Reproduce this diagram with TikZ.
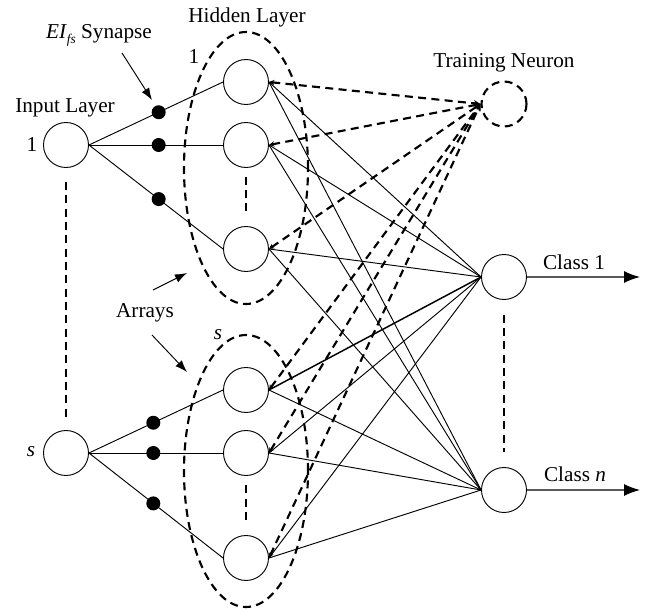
\documentclass[tikz,border=0pt]{standalone}
\usepackage{fontspec}
\setmainfont{Liberation Serif}
\usetikzlibrary{shapes.geometric, arrows.meta}
\tikzstyle{neuron} = [circle, draw, line width=0.7pt, minimum size=33.75pt, inner sep=0pt]
\tikzstyle{trainer} = [neuron, line width=1.6pt, dash pattern=on 6pt off 4pt]
\tikzstyle{synapse} = [circle, fill=black, minimum size=10.5pt, inner sep=0pt]
\tikzstyle{array} = [ellipse, draw, line width=1.6pt, dash pattern=on 6pt off 4pt,
    minimum width=93pt, minimum height=204pt, inner sep=0pt]
\tikzstyle{line} = [draw, line width=0.7pt]
\tikzstyle{train} = [draw, line width=1.6pt, dash pattern=on 6pt off 4pt,
    {Stealth[length=4pt,width=4pt]}-{Stealth[length=5pt,width=5pt]}]
\tikzstyle{gap} = [draw, line width=1.6pt, dash pattern=on 6pt off 4pt]
\tikzstyle{pointer} = [draw, line width=0.7pt, -{Latex[length=9pt,width=6.5pt]}]
\tikzstyle{output} = [draw, black!65, line width=1pt, -{Latex[length=12pt,width=9pt,black]}]
\tikzstyle{label} = [inner sep=0pt]

\begin{document}
\begin{tikzpicture}[x=0.75pt, y=-0.75pt, font=\fontsize{15.9}{19}\selectfont]
    \useasboundingbox (0,0) rectangle (651,614);

    \node [array] (arr1) at (246,168) {};
    \node [array] (arrs) at (246,471) {};

    \node [neuron] (in1) at (66,145) {};
    \node [neuron] (ins) at (66,453) {};

    \node [neuron] (h11) at (246,82) {};
    \node [neuron] (h12) at (246,145) {};
    \node [neuron] (h13) at (246,249) {};
    \node [neuron] (hs1) at (246,390) {};
    \node [neuron] (hs2) at (246,453) {};
    \node [neuron] (hs3) at (246,558) {};

    \node [trainer] (train) at (504,104) {};
    \node [neuron] (cls1) at (504,277) {};
    \node [neuron] (clsn) at (504,490) {};

    \path [line] (in1.east) -- node [synapse, pos=0.52] (d11) {} (h11.west);
    \path [line] (in1.east) -- node [synapse, pos=0.52] (d12) {} (h12.west);
    \path [line] (in1.east) -- node [synapse, pos=0.52] (d13) {} (h13.west);
    \path [line] (ins.east) -- node [synapse, pos=0.48] (ds1) {} (hs1.west);
    \path [line] (ins.east) -- node [synapse, pos=0.48] (ds2) {} (hs2.west);
    \path [line] (ins.east) -- node [synapse, pos=0.48] (ds3) {} (hs3.west);

    \path [line] (h11.east) -- (cls1.west);
    \path [line] (h12.east) -- (cls1.west);
    \path [line] (h13.east) -- (cls1.west);
    \path [line, line width=1.1pt] (hs1.east) -- (cls1.west);
    \path [line] (hs2.east) -- (cls1.west);
    \path [line] (hs3.east) -- (cls1.west);

    \path [line] (h11.east) -- (clsn.west);
    \path [line] (h12.east) -- (clsn.west);
    \path [line] (h13.east) -- (clsn.west);
    \path [line] (hs1.east) -- (clsn.west);
    \path [line] (hs2.east) -- (clsn.west);
    \path [line] (hs3.east) -- (clsn.west);

    \path [train] (h11.east) -- (train.west);
    \path [train] (h12.east) -- (train.west);
    \path [train] (h13.east) -- (train.west);
    \path [train] (hs1.east) -- (train.west);
    \path [train] (hs2.east) -- (train.west);
    \path [train] (hs3.east) -- (train.west);

    \path [gap, shorten <=10.5pt, shorten >=9pt] (in1) -- (ins);
    \path [gap, shorten <=6.5pt, shorten >=8.5pt] (h12) -- (h13);
    \path [gap, shorten <=7pt, shorten >=9pt] (hs2) -- (hs3);
    \path [gap, shorten <=11pt, shorten >=11.5pt] (cls1) -- (clsn);

    \coordinate (out1) at (640,277);
    \coordinate (outn) at (640,490);
    \path [output] (cls1.east) -- (out1);
    \path [output] (clsn.east) -- (outn);

    \node [label] (hidden) at (247,17) {Hidden Layer};
    \node [label] (syn) at (99,35) {\textit{EI}\raisebox{-0.5ex}{\fontsize{10}{10}\selectfont\itshape fs} Synapse};
    \node [label] (input) at (65,108) {Input Layer};
    \node [label] (trainlbl) at (504,63) {Training Neuron};
    \node [label] (arrays) at (145,313) {Arrays};
    \node [label] (in1lbl) at (32,145) {1};
    \node [label] (inslbl) at (31,452) {\itshape s};
    \node [label] (arr1lbl) at (194,57) {1};
    \node [label] (arrslbl) at (218,335) {\itshape s};
    \node [label] (cls1lbl) at (574,262) {Class 1};
    \node [label] (clsnlbl) at (575,474) {Class \textit{n}};

    \coordinate (synfrom) at (122,53);
    \coordinate (synto) at (152,100);
    \coordinate (arrfrom1) at (153,290);
    \coordinate (arrto1) at (187,273);
    \coordinate (arrfroms) at (152,335);
    \coordinate (arrtos) at (187,372);
    \path [pointer] (synfrom) -- (synto);
    \path [pointer] (arrfrom1) -- (arrto1);
    \path [pointer] (arrfroms) -- (arrtos);

\end{tikzpicture}
\end{document}
